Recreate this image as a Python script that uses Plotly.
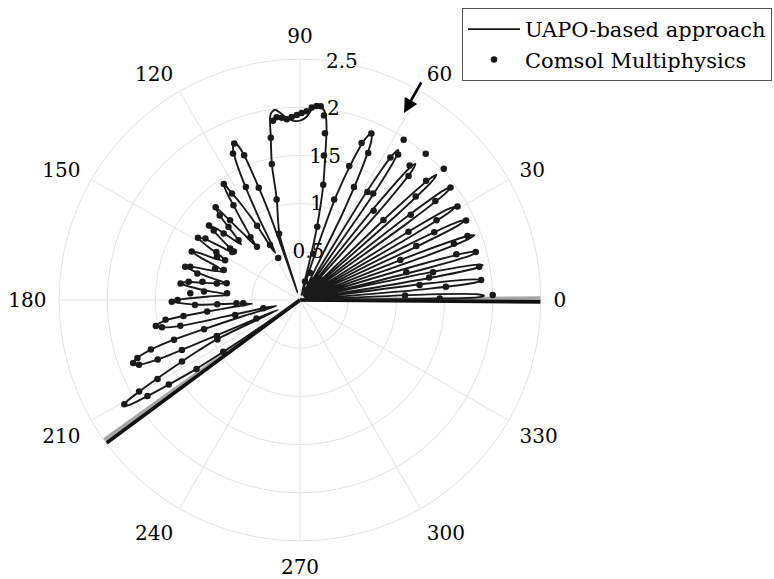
import plotly.graph_objects as go

# ---------------- data ----------------
uapo_theta = [
    0.0, 0.5, 0.85, 1.3, 1.85, 2.5, 3.2, 3.75,
    4.3, 5.0, 5.65, 6.2, 6.75, 7.4, 8.1, 8.5,
    8.9, 9.6, 10.25, 10.8, 11.35, 12.0, 12.7, 13.0,
    13.3, 14.0, 14.65, 15.2, 15.75, 16.4, 17.1, 17.8,
    18.5, 19.2, 19.85, 20.4, 20.95, 21.6, 22.3, 23.1,
    23.9, 24.6, 25.25, 25.8, 26.35, 27.0, 27.7, 28.4,
    29.1, 29.8, 30.45, 31.0, 31.55, 32.2, 32.9, 33.9,
    34.9, 35.6, 36.25, 36.8, 37.35, 38.0, 38.7, 39.7,
    40.6, 41.3, 41.95, 42.5, 43.05, 43.7, 44.4, 45.9,
    47.5, 48.3, 49.1, 49.7, 50.3, 51.1, 51.9, 53.0,
    54.3, 55.2, 56.1, 56.8, 57.5, 58.4, 59.3, 61.0,
    62.5, 63.8, 64.8, 65.8, 66.8, 68.0, 69.5, 70.8, 72.0, 73.0,
    74.5, 76.2, 77.0, 78.5, 80.2, 81.2, 82.2, 83.5, 85.0, 86.5, 88.0, 90.0,
    92.0, 94.0, 96.0, 97.5, 99.0, 100.2, 101.7, 103.0, 105.5, 107.5, 108.0, 108.4,
    109.0, 109.6, 110.3, 111.1, 112.0, 112.8, 113.7, 114.6, 115.6, 116.6, 117.5, 118.6,
    120.0, 121.5, 122.6, 123.3, 124.2, 125.1, 126.5, 128.3, 129.2,
    130.6, 131.7, 132.3, 133.5, 134.4, 135.8, 136.6,
    138.2, 139.6, 140.7, 141.1, 142.2, 143.6, 144.6,
    146.0, 147.3, 148.6, 149.8, 151.0, 152.3,
    154.0, 155.0, 155.9, 156.9, 158.2, 159.6,
    161.6, 162.9, 163.8, 164.8, 166.0, 167.3,
    169.4, 170.8, 172.1, 173.2, 174.6, 175.8,
    177.8, 179.6, 180.8, 181.8, 182.7, 183.0, 183.4, 184.6,
    186.0, 187.1, 187.8, 188.6, 190.2, 191.2, 192.2, 192.5, 192.7, 194.2,
    195.8, 196.9, 197.5, 198.4, 199.6, 200.7, 201.9, 202.7, 202.9, 203.0, 203.1, 204.0,
    205.3, 206.5, 207.5, 208.8, 209.7, 210.6, 211.4, 212.2, 212.8, 213.6, 214.0, 214.5, 215.2,
]
uapo_r = [
    0.05, 1.30, 1.84, 1.91, 1.84, 1.34, 0.06, 0.30,
    0.06, 1.33, 1.82, 1.90, 1.82, 1.33, 0.06, 0.30,
    0.06, 1.35, 1.85, 1.93, 1.85, 1.35, 0.06, 0.30,
    0.06, 1.34, 1.83, 1.91, 1.83, 1.34, 0.06, 0.30,
    0.06, 1.35, 1.85, 1.93, 1.85, 1.35, 0.06, 0.30,
    0.06, 1.33, 1.82, 1.90, 1.82, 1.33, 0.06, 0.30,
    0.06, 1.32, 1.80, 1.88, 1.80, 1.32, 0.06, 0.30,
    0.06, 1.37, 1.87, 1.95, 1.87, 1.37, 0.06, 0.30,
    0.06, 1.34, 1.84, 1.92, 1.84, 1.34, 0.06, 0.30,
    0.06, 1.30, 1.78, 1.85, 1.78, 1.30, 0.06, 0.28,
    0.06, 1.30, 1.78, 1.86, 1.78, 1.30, 0.06, 0.25,
    0.08, 1.00, 1.50, 1.80, 1.88, 1.80, 1.50, 1.15, 0.50, 0.10,
    0.05, 0.50, 0.80, 1.20, 1.55, 1.80, 1.95, 2.01, 2.03, 1.98, 1.90, 1.86,
    1.86, 1.89, 1.95, 1.99, 1.95, 1.71, 1.44, 1.07, 0.85, 0.70, 0.35, 0.08,
    0.45, 1.00, 1.30, 1.61, 1.74, 1.77, 1.73, 1.62, 1.35, 0.95, 0.55, 0.60,
    0.89, 1.15, 1.33, 1.44, 1.36, 1.20, 1.00, 0.80, 0.72,
    0.92, 1.18, 1.30, 1.21, 1.06, 0.89, 0.84,
    0.98, 1.15, 1.22, 1.18, 1.04, 0.90, 0.84,
    0.98, 1.17, 1.24, 1.12, 0.95, 0.86,
    0.98, 1.16, 1.23, 1.12, 0.92, 0.85,
    0.97, 1.17, 1.24, 1.14, 0.96, 0.78,
    0.95, 1.17, 1.25, 1.14, 0.92, 0.74,
    0.95, 1.22, 1.32, 1.20, 1.05, 0.80, 0.59, 0.50,
    0.70, 0.97, 1.22, 1.41, 1.52, 1.46, 1.27, 0.80, 0.39, 0.25,
    0.60, 1.04, 1.37, 1.63, 1.79, 1.86, 1.80, 1.60, 1.33, 0.94, 0.49, 0.25,
    0.95, 1.18, 1.38, 1.69, 1.93, 2.10, 2.10, 1.87, 1.62, 1.29, 0.96, 0.50, 0.05,
]

comsol_theta = [
    1.5, 2.4, 0.6, 6.3, 5.2, 7.2, 10.5, 9.9, 11.8, 15.3, 16.3, 14.6,
    20.1, 20.9, 21.7, 25.6, 24.9, 26.8, 30.7, 30.3, 32.2, 36.8, 36.2, 37.6,
    42.4, 43.4, 41.8, 43.8, 49.3, 50.8, 48.8, 50.5, 57.1, 56.0, 57.6, 55.5, 58.0,
    66.8, 68.6, 65.1, 69.8, 71.2, 64.5,
    74.1, 76.7, 78.6, 80.6, 81.5, 82.6, 83.9, 85.1, 86.5, 88.0, 89.5, 91.0,
    92.6, 94.2, 95.7, 97.3, 98.6, 100.2, 101.7, 103.1, 107.5,
    112.8, 114.6, 111.1, 110.2, 115.6, 118.6, 117.5, 120.0,
    123.3, 122.6, 125.1, 128.3, 129.0, 132.3, 133.5, 134.4, 135.8, 131.3,
    140.7, 141.1, 143.6, 143.8, 139.0, 148.6, 147.0, 152.0, 150.2,
    155.9, 152.5, 144.7, 163.8, 163.1, 159.6, 158.6, 165.5,
    172.1, 170.7, 169.4, 168.7, 167.2,
    180.8, 180.0, 176.5, 175.0, 174.8, 182.7, 183.0, 183.0, 183.3,
    190.2, 188.4, 187.8, 187.1, 193.0, 191.2, 192.2, 192.6,
    200.7, 199.6, 198.4, 197.5, 196.9, 201.9, 202.7, 202.9, 203.4, 202.9,
    210.7, 209.6, 212.2, 209.0, 212.8, 207.5, 213.7, 214.0, 205.5,
    4.0, 9.0, 13.0, 18.0, 23.0, 28.0, 34.0, 40.0, 46.0, 52.0, 60.0,
    15.0, 25.0, 35.0, 45.0, 70.0, 75.0, 3.0, 8.0, 20.0, 30.0, 55.0,
    11.0, 17.0, 27.0, 38.0, 48.0, 6.0,
]
comsol_r = [
    2.00, 1.09, 1.45, 1.89, 1.52, 1.25, 1.89, 1.36, 1.41, 1.89, 1.69, 1.14,
    1.70, 1.86, 1.12, 1.91, 1.33, 1.56, 1.90, 1.64, 1.33, 1.95, 1.74, 1.45,
    2.02, 1.80, 1.61, 1.20, 2.00, 1.80, 1.71, 1.20, 1.98, 1.82, 1.75, 1.34, 1.32,
    1.88, 1.75, 1.68, 1.48, 1.10, 1.30,
    0.50, 0.78, 1.22, 1.52, 1.75, 1.93, 2.02, 2.02, 2.00, 1.96, 1.94, 1.92,
    1.90, 1.88, 1.90, 1.91, 1.88, 1.71, 1.44, 1.07, 0.72,
    1.76, 1.67, 1.61, 1.24, 1.30, 0.65, 0.49, 0.89,
    1.44, 1.31, 1.20, 0.83, 0.71, 1.30, 1.21, 1.06, 0.89, 1.10,
    1.22, 1.15, 0.90, 0.85, 1.05, 1.24, 1.17, 0.88, 1.00,
    1.23, 0.97, 0.86, 1.24, 1.19, 0.94, 0.85, 1.10,
    1.25, 1.17, 1.03, 0.88, 0.78,
    1.33, 1.27, 1.14, 1.00, 0.76, 1.09, 0.86, 0.66, 0.59,
    1.52, 1.41, 1.22, 0.97, 0.69, 1.46, 1.27, 0.39,
    1.85, 1.79, 1.63, 1.37, 1.04, 1.80, 1.60, 1.33, 0.94, 0.49,
    2.12, 1.92, 1.87, 1.69, 1.62, 1.38, 1.29, 0.96, 0.95,
    0.20, 0.25, 0.20, 0.25, 0.15, 0.22, 0.18, 0.20, 0.15, 0.20, 0.12,
    0.10, 0.10, 0.10, 0.30, 0.30, 0.20, 0.35, 0.30, 0.32, 0.28, 0.25,
    0.35, 0.33, 0.30, 0.28, 0.30, 0.15,
]

# reference directions (thick lines)
ref_dirs = [0.0, 216.0]
ref_r = [0.0, 2.5]

radial_ticks = [0.5, 1.0, 1.5, 2.0, 2.5]
radial_ticktext = ["0.5", "1", "1.5", "2", "2.5"]
angular_ticks = list(range(0, 360, 30))
angular_ticktext = [str(a) for a in angular_ticks]

FONT = "DejaVu Serif"
GRID = "#e2e2e2"

fig = go.Figure()

# radial tick labels as centred text along the 80 deg direction
fig.add_trace(go.Scatterpolar(
    r=radial_ticks, theta=[80] * len(radial_ticks), mode="text",
    text=radial_ticktext, textposition="middle center",
    textfont=dict(family=FONT, size=20, color="black"),
    showlegend=False, hoverinfo="skip"))

# thick reference lines: grey beside black
gray_offsets = [0.45, -0.45]
black_offsets = [-0.45, 0.45]
for d, g_off, b_off in zip(ref_dirs, gray_offsets, black_offsets):
    fig.add_trace(go.Scatterpolar(
        r=ref_r, theta=[d + g_off, d + g_off], mode="lines",
        line=dict(color="#a6a6a6", width=3.8), showlegend=False, hoverinfo="skip"))
    fig.add_trace(go.Scatterpolar(
        r=ref_r, theta=[d + b_off, d + b_off], mode="lines",
        line=dict(color="#111111", width=3.6), showlegend=False, hoverinfo="skip"))

fig.add_trace(go.Scatterpolar(
    r=uapo_r, theta=uapo_theta, mode="lines", name="UAPO-based approach",
    line=dict(color="#1a1a1a", width=1.9, shape="spline", smoothing=0.8)))

fig.add_trace(go.Scatterpolar(
    r=comsol_r, theta=comsol_theta, mode="markers", name="Comsol Multiphysics",
    marker=dict(color="#1a1a1a", size=6.5)))

fig.update_layout(
    width=774, height=579,
    margin=dict(l=0, r=0, t=0, b=0),
    paper_bgcolor="white",
    font=dict(family=FONT, size=20, color="black"),
    polar=dict(
        domain=dict(x=[59 / 774, 541 / 774], y=[1 - 541 / 579, 1 - 59 / 579]),
        bgcolor="white",
        radialaxis=dict(range=[0, 2.5], tickvals=radial_ticks, showticklabels=False,
                        ticks="", showline=False, gridcolor=GRID, gridwidth=1, angle=80),
        angularaxis=dict(direction="counterclockwise", rotation=0,
                         tickvals=angular_ticks, ticktext=angular_ticktext,
                         ticks="outside", ticklen=8, tickcolor="rgba(0,0,0,0)",
                         showline=True, linecolor=GRID, linewidth=1,
                         gridcolor=GRID, gridwidth=1,
                         tickfont=dict(family=FONT, size=20, color="black")),
    ),
    legend=dict(x=462 / 774, y=1 - 8 / 579, xanchor="left", yanchor="top",
                bgcolor="white", bordercolor="#555555", borderwidth=1,
                font=dict(family=FONT, size=21, color="black"),
                itemwidth=52, tracegroupgap=0),
    annotations=[dict(x=404 / 774, y=1 - 113 / 579, xref="paper", yref="paper",
                      ax=18, ay=-32, axref="pixel", ayref="pixel", text="",
                      showarrow=True, arrowhead=2, arrowsize=1.1, arrowwidth=2.6,
                      arrowcolor="black")],
)

fig.write_html("out.html")
